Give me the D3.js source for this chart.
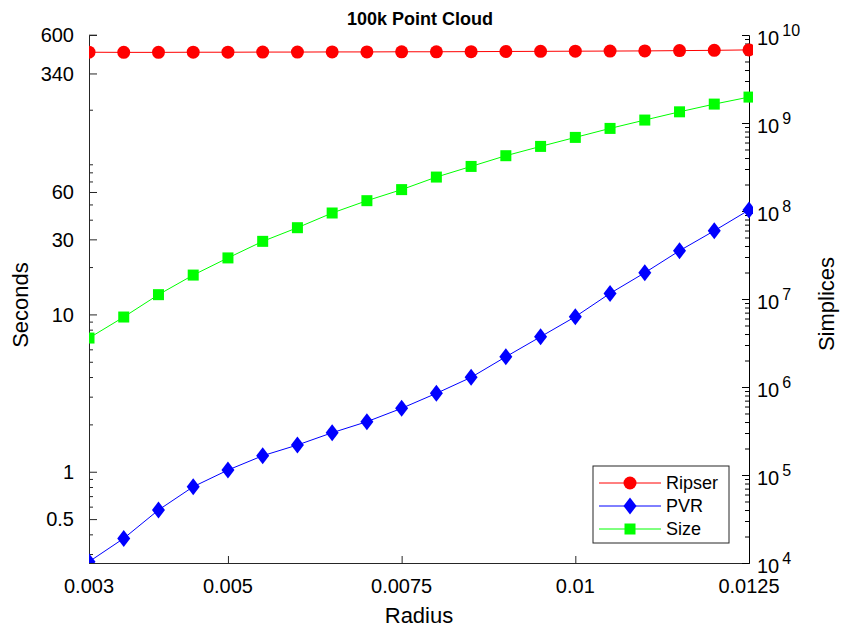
<!DOCTYPE html>
<html>
<head>
<meta charset="utf-8">
<script src="https://cdn.jsdelivr.net/npm/d3@7"></script>
<style>
  body { margin: 0; background: #fff; }
  text { font-family: "Liberation Sans", Arial, sans-serif; fill: #000; }
</style>
</head>
<body>
<div class="chart"></div>
<script>
// radius values (x axis)
const radius = [0.003, 0.0035, 0.004, 0.0045, 0.005, 0.0055, 0.006, 0.0065, 0.007, 0.0075,
  0.008, 0.0085, 0.009, 0.0095, 0.01, 0.0105, 0.011, 0.0115, 0.012, 0.0125];
// seconds (left axis)
const ripser = [464, 463, 463, 464, 464, 465, 465, 466, 466, 467,
  467, 468, 469, 470, 471, 472, 473, 475, 477, 480];
const pvr = [0.268, 0.377, 0.571, 0.803, 1.025, 1.264, 1.479, 1.77, 2.08, 2.53,
  3.15, 3.98, 5.38, 7.21, 9.67, 13.6, 18.4, 25.4, 34.0, 46.1];
// simplices (right axis)
const size = [3.6e6, 6.24e6, 1.12e7, 1.87e7, 2.93e7, 4.52e7, 6.46e7, 9.49e7, 1.31e8, 1.75e8,
  2.43e8, 3.21e8, 4.25e8, 5.42e8, 6.86e8, 8.68e8, 1.08e9, 1.34e9, 1.64e9, 1.97e9];

const xTicks = [0.003, 0.005, 0.0075, 0.01, 0.0125];
const leftTicks = [0.5, 1, 10, 30, 60, 340, 600];
const rightTicks = [1e4, 1e5, 1e6, 1e7, 1e8, 1e9, 1e10];

const W = 841, H = 631;
const margin = { top: 35, right: 92, bottom: 68, left: 89 };
const width = W - margin.left - margin.right,
  height = H - margin.top - margin.bottom;

const svg = d3.select('.chart').append('svg')
  .attr('width', W).attr('height', H);

const x = d3.scaleLinear().domain([0.003, 0.0125]).range([0, width]);
const yL = d3.scaleLog().domain([0.263, 597]).range([height, 0]);
const yR = d3.scaleLog().domain([1e4, 1e10]).range([height, 0]);

const g = svg.append('g')
  .attr('transform', 'translate(' + margin.left + ',' + margin.top + ')');

svg.append('defs').append('clipPath').attr('id', 'clip')
  .append('rect').attr('x', 0).attr('y', -10).attr('width', width + 4).attr('height', height + 10);

// minor ticks
const minorL = [];
[-1, 0, 1, 2].forEach(function(e) {
  for (let m = 2; m <= 9; m++) {
    const v = m * Math.pow(10, e);
    if (v > 0.263 && v <= 200 && leftTicks.indexOf(v) < 0) minorL.push(v);
  }
});
const minorR = [];
[4, 5, 6, 7, 8, 9].forEach(function(e) {
  for (let m = 2; m <= 9; m++) minorR.push(m * Math.pow(10, e));
});

// x axis
const xAxis = g.append('g').attr('transform', 'translate(0,' + height + ')')
  .call(d3.axisTop(x).tickValues(xTicks).tickSize(7).tickFormat(''));
xAxis.select('.domain').attr('stroke', '#262626');
xAxis.selectAll('.tick line').attr('stroke', '#262626');
g.selectAll('.xlab').data(xTicks).enter().append('text')
  .attr('class', 'xlab')
  .attr('x', function(d) { return x(d); })
  .attr('y', height + 30)
  .attr('text-anchor', 'middle')
  .style('font-size', '20px')
  .text(function(d) { return String(d); });

// left axis
const lAxis = g.append('g')
  .call(d3.axisRight(yL).tickValues(leftTicks).tickSize(8).tickFormat(''));
lAxis.select('.domain').attr('stroke', '#262626');
lAxis.selectAll('.tick line').attr('stroke', '#262626');
g.append('g')
  .call(d3.axisRight(yL).tickValues(minorL).tickSize(4).tickFormat(''))
  .call(function(s) { s.select('.domain').remove(); s.selectAll('line').attr('stroke', '#262626'); });
g.selectAll('.ylab').data(leftTicks).enter().append('text')
  .attr('class', 'ylab')
  .attr('x', -15)
  .attr('y', function(d) { return yL(d); })
  .attr('dy', '0.36em')
  .attr('text-anchor', 'end')
  .style('font-size', '20px')
  .text(function(d) { return d; });

// right axis
const rAxis = g.append('g').attr('transform', 'translate(' + width + ',0)')
  .call(d3.axisLeft(yR).tickValues(rightTicks).tickSize(7).tickFormat(''));
rAxis.select('.domain').attr('stroke', '#000');
rAxis.selectAll('.tick line').attr('stroke', '#000');
g.append('g').attr('transform', 'translate(' + width + ',0)')
  .call(d3.axisLeft(yR).tickValues(minorR).tickSize(4).tickFormat(''))
  .call(function(s) { s.select('.domain').remove(); s.selectAll('line').attr('stroke', '#000'); });
const rl = g.selectAll('.rlab').data(rightTicks).enter().append('text')
  .attr('class', 'rlab')
  .attr('x', width + 8)
  .attr('y', function(d) { return yR(d) + 10; })
  .style('font-size', '20px');
rl.append('tspan').text('10');
rl.append('tspan').attr('dx', 3).attr('dy', -9).style('font-size', '16px')
  .text(function(d) { return Math.round(Math.log10(d)); });

// series
const series = [
  { name: 'Ripser', values: ripser, y: yL, color: '#ff0000', shape: 'circle' },
  { name: 'PVR', values: pvr, y: yL, color: '#0000ff', shape: 'diamond' },
  { name: 'Size', values: size, y: yR, color: '#00ff00', shape: 'square' }
];

function marker(sel, shape, color) {
  if (shape === 'circle') {
    sel.append('circle').attr('r', 6.5).attr('fill', color);
  } else if (shape === 'diamond') {
    sel.append('path').attr('d', 'M0,-8.5L6.5,0L0,8.5L-6.5,0Z').attr('fill', color);
  } else {
    sel.append('rect').attr('x', -5.5).attr('y', -5.5).attr('width', 11).attr('height', 11).attr('fill', color);
  }
}

const plot = g.append('g').attr('clip-path', 'url(#clip)');
series.forEach(function(s) {
  const line = d3.line()
    .x(function(d, i) { return x(radius[i]); })
    .y(function(d) { return s.y(d); });
  plot.append('path').datum(s.values)
    .attr('fill', 'none').attr('stroke', s.color).attr('stroke-width', 1)
    .attr('d', line);
  plot.selectAll('.m-' + s.name).data(s.values).enter().append('g')
    .attr('class', 'm-' + s.name)
    .attr('transform', function(d, i) { return 'translate(' + x(radius[i]) + ',' + s.y(d) + ')'; })
    .each(function() { marker(d3.select(this), s.shape, s.color); });
});

// legend
const lg = svg.append('g').attr('transform', 'translate(593,466)');
lg.append('rect').attr('width', 136).attr('height', 77)
  .attr('fill', '#fff').attr('stroke', '#262626').attr('stroke-width', 1);
series.forEach(function(s, i) {
  const row = lg.append('g').attr('transform', 'translate(0,' + (17 + i * 23) + ')');
  row.append('line').attr('x1', 6).attr('x2', 68).attr('stroke', s.color);
  marker(row.append('g').attr('transform', 'translate(37,0)'), s.shape, s.color);
  row.append('text').attr('x', 73).attr('dy', '0.36em').style('font-size', '18px').text(s.name);
});

// titles
svg.append('text').attr('x', 420).attr('y', 25).attr('text-anchor', 'middle')
  .style('font-size', '18px').style('font-weight', 'bold').text('100k Point Cloud');
svg.append('text').attr('x', 419).attr('y', 623).attr('text-anchor', 'middle')
  .style('font-size', '22px').text('Radius');
svg.append('text').attr('transform', 'translate(28,305) rotate(-90)').attr('text-anchor', 'middle')
  .style('font-size', '22px').text('Seconds');
svg.append('text').attr('transform', 'translate(834,304) rotate(-90)').attr('text-anchor', 'middle')
  .style('font-size', '22px').text('Simplices');
</script>
</body>
</html>
